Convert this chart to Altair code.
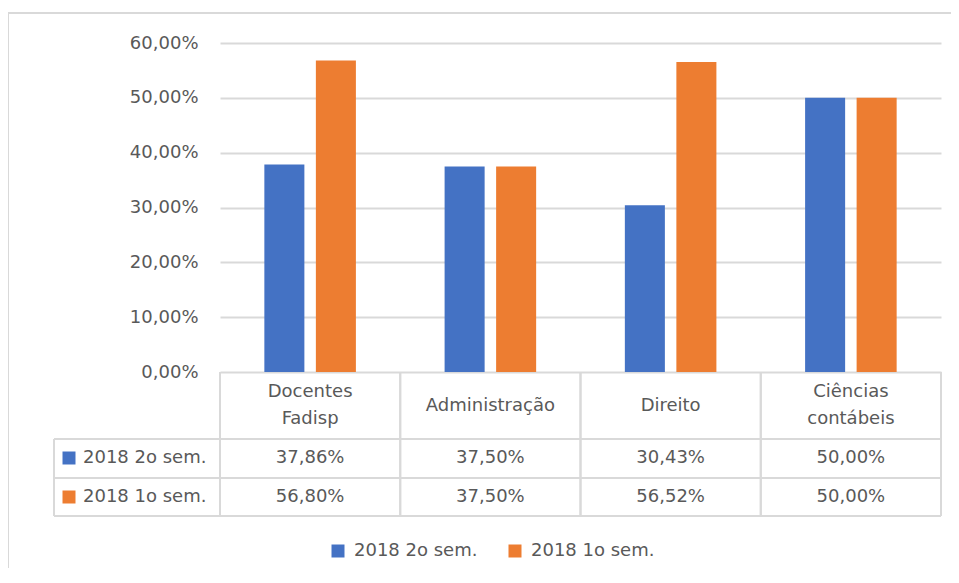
import altair as alt
import pandas as pd

categories = ["Docentes Fadisp", "Administração", "Direito", "Ciências contábeis"]
header_labels = ["Docentes\nFadisp", "Administração", "Direito", "Ciências\ncontábeis"]
series = ["2018 2o sem.", "2018 1o sem."]
values_2o = [0.3786, 0.3750, 0.3043, 0.5000]
values_1o = [0.5680, 0.3750, 0.5652, 0.5000]
colors = ["#4472C4", "#ED7D31"]
y_ticks = [0.0, 0.1, 0.2, 0.3, 0.4, 0.5, 0.6]

FONT = "DejaVu Sans"
TXT = "#595959"
LINE = "#d9d9d9"
FS = 18
LH = 27

rows = []
for s, vals in zip(series, [values_2o, values_1o]):
    for c, v in zip(categories, vals):
        rows.append({"category": c, "series": s, "value": v})
df = pd.DataFrame(rows)
header_df = pd.DataFrame({
    "category": categories,
    "header": header_labels,
    "nlines": [h.count("\n") + 1 for h in header_labels],
})
series_df = pd.DataFrame({"series": series})
cat_df = pd.DataFrame({"category": categories})
one = pd.DataFrame({"k": [0]})

fmt = "replace(format(datum.value, '.2%'), '.', ',')"

xscale = alt.Scale(domain=categories, paddingInner=0, paddingOuter=0)
cscale = alt.Scale(domain=series, range=colors)
legend = alt.Legend(
    title=None, orient="none", legendX=109, legendY=499, direction="horizontal",
    symbolType="square", symbolSize=169, symbolStrokeWidth=0, symbolOpacity=1,
    labelFont=FONT, labelFontSize=FS, labelColor=TXT, labelOffset=7,
    columnPadding=28, padding=0,
)

bars = alt.Chart(df).mark_bar().encode(
    x=alt.X("category:N", scale=xscale, axis=None),
    xOffset=alt.XOffset("series:N", scale=alt.Scale(domain=series, paddingInner=0.223, paddingOuter=0.861)),
    y=alt.Y("value:Q", scale=alt.Scale(domain=[0, 0.6], nice=False),
            axis=alt.Axis(values=y_ticks, labelExpr=fmt, grid=True, gridColor=LINE, gridWidth=2,
                          domain=False, ticks=False, labelPadding=22, labelFont=FONT,
                          labelFontSize=FS, labelColor=TXT, title=None)),
    color=alt.Color("series:N", scale=cscale, legend=legend),
)

def rule(**enc):
    return alt.Chart(one).mark_rule(color=LINE, strokeWidth=2).encode(**enc)

layers = [bars]

# outer frame
layers.append(rule(x=alt.value(-212), y=alt.value(-30), y2=alt.value(600)))
layers.append(rule(x=alt.value(-212), x2=alt.value(740), y=alt.value(-30)))

# table lines
for yy in [396, 435, 473]:
    layers.append(rule(x=alt.value(-166), x2=alt.value(721), y=alt.value(yy)))
layers.append(rule(x=alt.value(-166), y=alt.value(396), y2=alt.value(473)))
for bp in [0, 1]:
    layers.append(
        alt.Chart(cat_df).mark_rule(color=LINE, strokeWidth=2).encode(
            x=alt.X("category:N", scale=xscale, axis=None, bandPosition=bp),
            y=alt.value(329), y2=alt.value(473),
        )
    )

# header row (one- and two-line labels centred in the header cell)
header_center = 362.5
for n in [1, 2]:
    layers.append(
        alt.Chart(header_df).transform_filter(alt.datum.nlines == n)
        .mark_text(font=FONT, fontSize=FS, color=TXT, align="center",
                   baseline="middle", lineBreak="\n", lineHeight=LH).encode(
            x=alt.X("category:N", scale=xscale, axis=None),
            y=alt.value(header_center - (n - 1) * LH / 2),
            text="header:N",
        )
    )

row_y = [415, 454]
for s, yy in zip(series, row_y):
    layers.append(
        alt.Chart(df).transform_filter(alt.datum.series == s)
        .transform_calculate(label=fmt)
        .mark_text(font=FONT, fontSize=FS, color=TXT, align="center", baseline="middle").encode(
            x=alt.X("category:N", scale=xscale, axis=None),
            y=alt.value(yy),
            text="label:N",
        )
    )
    layers.append(
        alt.Chart(series_df).transform_filter(alt.datum.series == s)
        .mark_text(font=FONT, fontSize=FS, color=TXT, align="left", baseline="middle").encode(
            x=alt.value(-137), y=alt.value(yy), text="series:N",
        )
    )
    layers.append(
        alt.Chart(series_df).transform_filter(alt.datum.series == s)
        .mark_square(size=169, opacity=1, strokeWidth=0).encode(
            x=alt.value(-151), y=alt.value(yy),
            color=alt.Color("series:N", scale=cscale, legend=legend),
        )
    )

chart = alt.layer(*layers).properties(
    width=721, height=329,
    padding={"left": 212, "top": 35, "right": 10, "bottom": 196},
    autosize=alt.AutoSizeParams(type="none"),
).configure_view(stroke=None)

chart.save("out.html", embed_options={"renderer": "svg", "actions": False})
